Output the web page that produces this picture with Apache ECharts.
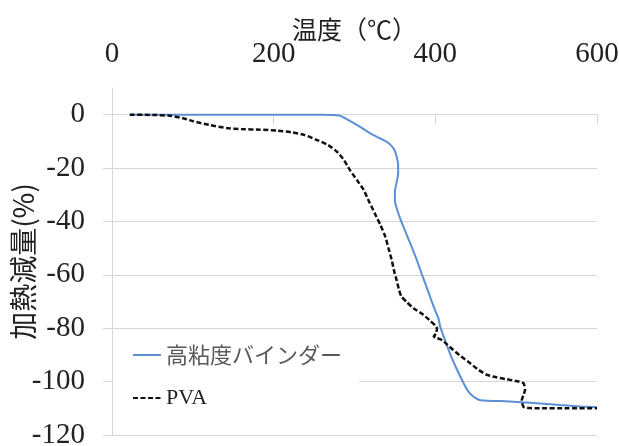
<!DOCTYPE html>
<html>
<head>
<meta charset="utf-8">
<script src="https://cdn.jsdelivr.net/npm/echarts@6/dist/echarts.min.js"></script>
<style>
html,body{margin:0;padding:0;background:#fff;}
#chart{width:619px;height:446px;}
</style>
</head>
<body>
<div id="chart"></div>
<script>
// Series names
const seriesNames = ['高粘度バインダー', 'PVA'];
// Axis titles
const xTitle = '温度（℃）';
const yTitle = '加熱減量(%)';
// Tick values
const xTicks = [0, 200, 400, 600];
const yTicks = [-120, -100, -80, -60, -40, -20, 0];

// 高粘度バインダー: [temperature, weight change %]
const binderData = [
  [22,0],[100,0],[200,0],[260,0],[281,-0.3],[292,-1.9],[305,-4.2],[319,-6.9],
  [331,-8.8],[342,-10.6],[349,-13],[352,-15.6],[354,-19],[354,-21.9],[352,-25.5],
  [350,-28.8],[350,-31.5],[351,-33.8],[356,-38.5],[362,-43.1],[370,-49],[377,-54.4],
  [383,-59.5],[389,-64.4],[395,-69.5],[400,-73.5],[404,-76.5],[406,-79.4],[412,-84.5],
  [418,-89.4],[426,-95],[435,-100.6],[441,-103.8],[447,-105.6],[453,-106.7],[459,-107.1],
  [480,-107.3],[505,-107.7],[530,-108.2],[554,-108.8],[580,-109.3],[600,-109.6]
];

// PVA: [temperature, weight change %]
const pvaData = [
  [22,0],[50,-0.1],[72,-0.4],[90,-1.5],[101,-2.5],[120,-3.8],[142,-5],[160,-5.4],
  [183,-5.6],[205,-6],[222,-6.6],[238,-7.6],[253,-9.4],[267,-11.3],[278,-13.8],
  [287,-17],[294,-20.6],[303,-24.5],[311,-28],[318,-32.5],[325,-36.9],[332,-41.3],
  [338,-45.6],[342,-50],[346,-54.4],[349,-58.5],[352,-61.9],[355,-65.5],[358,-68.1],
  [365,-70.3],[373,-72.5],[383,-74.5],[393,-77],[400,-79],[402,-80],[401,-81.9],
  [398,-83.1],[401,-83.6],[408,-84.4],[415,-86.2],[422,-88.1],[432,-90.6],[443,-93.1],
  [453,-95.5],[464,-97.5],[476,-98.4],[488,-99.1],[500,-99.8],[509,-100.6],[511,-103.1],
  [509,-105],[507,-106.9],[509,-109.4],[518,-109.9],[529,-110],[560,-110],[600,-110]
];

const FONT = "'Liberation Serif','Noto Sans CJK JP',serif";
const CJK = "'Noto Sans CJK JP','Liberation Serif',sans-serif";
const gridColor = '#d6d6d6';
const textColor = '#222';

const chart = echarts.init(document.getElementById('chart'), null, {renderer: 'canvas'});
chart.setOption({
  animation: false,
  backgroundColor: '#fff',
  grid: {left: 112, right: 22, top: 88, bottom: 11, containLabel: false, outerBoundsMode: 'none'},
  legend: {
    orient: 'vertical',
    left: 113,
    top: 334,
    padding: [10, 17, 10, 19],
    backgroundColor: '#fff',
    itemWidth: 28,
    itemHeight: 14,
    itemGap: 21,
    itemTextGap: 5,
    selectedMode: false,
    itemStyle: {opacity: 0},
    textStyle: {fontFamily: FONT, fontSize: 22, color: '#404040'},
    data: [
      {name: seriesNames[0], textStyle: {fontFamily: CJK, color: '#595959'}},
      {name: seriesNames[1], textStyle: {fontFamily: FONT, color: '#222'}}
    ],
    z: 10
  },
  xAxis: {
    type: 'value',
    position: 'top',
    min: xTicks[0],
    max: xTicks[xTicks.length - 1],
    interval: 200,
    name: xTitle,
    nameLocation: 'middle',
    nameGap: 46,
    nameMoveOverlap: false,
    nameTextStyle: {fontFamily: CJK, fontSize: 25, color: textColor},
    axisLine: {show: true, onZero: true, lineStyle: {color: gridColor, width: 1}},
    axisTick: {show: true, inside: true, length: 10, lineStyle: {color: gridColor}},
    axisLabel: {fontFamily: FONT, fontSize: 29, color: textColor, margin: 19},
    splitLine: {show: false}
  },
  yAxis: {
    type: 'value',
    min: -120,
    max: 10,
    interval: 10,
    name: yTitle,
    nameLocation: 'middle',
    nameGap: 75,
    nameMoveOverlap: false,
    nameTextStyle: {fontFamily: CJK, fontSize: 28, color: textColor},
    axisLine: {show: true, lineStyle: {color: gridColor, width: 1}},
    axisTick: {show: true, inside: false, length: 9, customValues: yTicks, lineStyle: {color: gridColor}},
    axisLabel: {fontFamily: FONT, fontSize: 29, color: textColor, margin: 27, customValues: yTicks},
    splitLine: {show: true, lineStyle: {color: gridColor, width: 1}}
  },
  series: [
    {
      name: seriesNames[0],
      type: 'line',
      data: binderData,
      showSymbol: false,
      symbol: 'none',
      smooth: 0.2,
      lineStyle: {color: '#5b8fd6', width: 2},
      itemStyle: {color: '#5b8fd6'},
      z: 3
    },
    {
      name: seriesNames[1],
      type: 'line',
      data: pvaData,
      showSymbol: false,
      symbol: 'none',
      smooth: 0.2,
      lineStyle: {color: '#111', width: 2.5, type: [5, 2.5]},
      itemStyle: {color: '#111'},
      z: 4
    }
  ]
});
</script>
</body>
</html>
